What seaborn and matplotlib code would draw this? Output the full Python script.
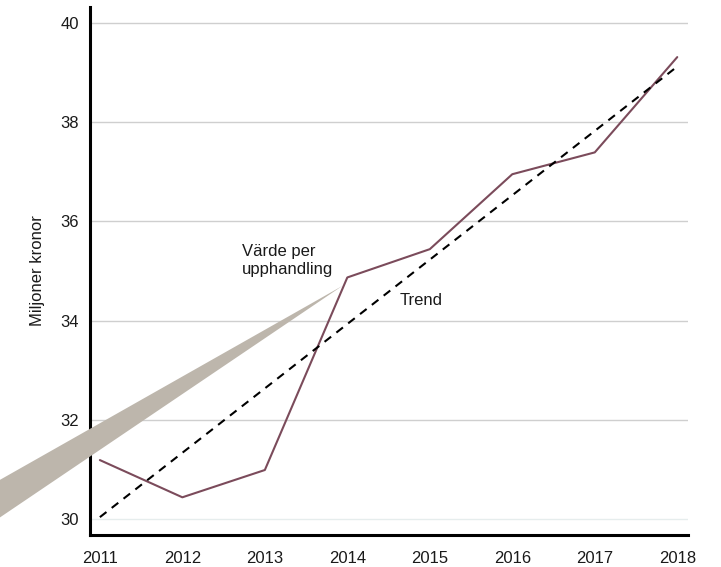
import numpy as np
import matplotlib
matplotlib.use("Agg")
import matplotlib.pyplot as plt
from matplotlib.patches import Polygon
import pandas as pd
import seaborn as sns

years = [2011, 2012, 2013, 2014, 2015, 2016, 2017, 2018]
values = [31.19, 30.44, 30.99, 34.87, 35.44, 36.95, 37.39, 39.31]
trend_years = [2011, 2018]
trend_values = [30.04, 39.12]
yticks = [30, 32, 34, 36, 38, 40]

sns.set_style("white")
plt.rcParams['font.family'] = ['Liberation Sans', 'DejaVu Sans']

df = pd.DataFrame({"year": years, "value": values})
tr = pd.DataFrame({"year": trend_years, "value": trend_values})

fig = plt.figure(figsize=(7.21, 5.67), dpi=100)
ax = fig.add_axes([0.1248, 0.0564, 0.8294, 0.9313])

# grid
ax.set_yticks(yticks)
for t in yticks:
    ax.axhline(t, color='#e6eded' if t == 30 else '#cfcfcf', lw=1, zorder=0)

sns.lineplot(data=df, x="year", y="value", color='#7b4b5b', lw=1.5, ax=ax, zorder=3)
sns.lineplot(data=tr, x="year", y="value", color='black', lw=1.5, ax=ax,
             dashes=False, zorder=3).lines[-1].set_dashes((4, 3.2))

# callout wedge
wedge = Polygon([(2013.94, 34.70), (2009.5, 30.52), (2009.5, 29.71)], closed=True,
                facecolor='#bdb6ac', edgecolor='none', clip_on=False, zorder=2.6)
ax.add_patch(wedge)

fs = 12
ax.text(2012.72, 35.22, "Värde per\nupphandling", fontsize=fs, color='#1a1a1a',
        ha='left', va='center', linespacing=1.25)
ax.text(2014.64, 34.41, "Trend", fontsize=fs, color='#1a1a1a', ha='left', va='center')

ax.set_xlim(2010.88, 2018.13)
ax.set_ylim(29.68, 40.32)
ax.set_xticks(years)
ax.set_xticklabels([str(y) for y in years])

for s in ['top', 'right']:
    ax.spines[s].set_visible(False)
for s in ['left', 'bottom']:
    ax.spines[s].set_linewidth(2.2)
    ax.spines[s].set_color('black')
    ax.spines[s].set_zorder(2.5)

ax.tick_params(axis='x', length=7, width=2, direction='out', pad=4.5, labelsize=fs,
               colors='black', labelcolor='#1a1a1a')
ax.tick_params(axis='y', length=0, pad=8, labelsize=fs, labelcolor='#1a1a1a')

ax.set_xlabel("")
ax.set_ylabel("Miljoner kronor", fontsize=fs, color='#1a1a1a')
ax.yaxis.set_label_coords(-0.076, 0.5)

fig.savefig("out.png", dpi=100)
